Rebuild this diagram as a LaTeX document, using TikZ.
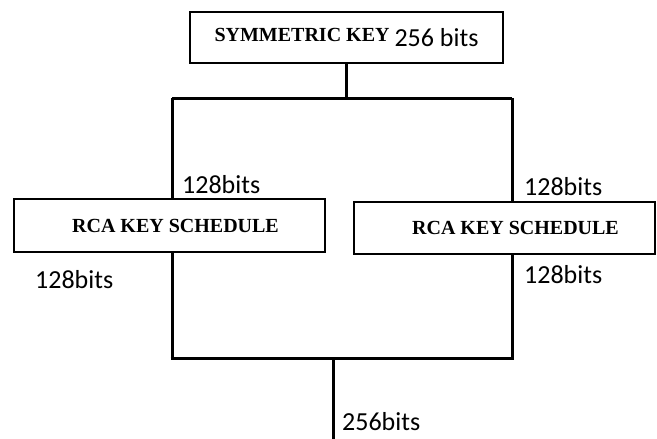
\documentclass[tikz,border=0pt]{standalone}
\usepackage{fontspec}
\setmainfont{Liberation Serif}
\newfontfamily\bitsfont{Carlito}
\usetikzlibrary{positioning}

\begin{document}
\begin{tikzpicture}[x=1pt,y=-1pt]
	\tikzset{keybox/.style={draw,line width=1.6pt,inner sep=0pt,font=\bfseries\fontsize{20}{22}\selectfont}}
	\tikzset{wire/.style={line width=3pt}}
	\tikzset{bits/.style={inner sep=0pt,font=\bitsfont\fontsize{26}{28}\selectfont}}

	\useasboundingbox (0,0) rectangle (657,439);

	    \node[keybox,minimum width=313pt,minimum height=51pt] (symkey) at (346.5,37.5)
	        {SYMMETRIC KEY \raisebox{-5pt}{\bitsfont\fontsize{26}{28}\selectfont\mdseries 256 bits}};
	    \node[keybox,minimum width=311pt,minimum height=53pt] (lsched) at (169.5,225.5) {\hspace*{12pt}RCA KEY SCHEDULE};
	    \node[keybox,minimum width=301pt,minimum height=52pt] (rsched) at (504.5,228) {\hspace*{22pt}RCA KEY SCHEDULE};

	    \coordinate (splitL) at (172,98);
	    \coordinate (splitR) at (512,98);
	    \coordinate (joinL) at (172,358);
	    \coordinate (joinR) at (512,358);
	    \coordinate (out) at (333,439);

	    % split of the key
	    \draw[wire] (symkey.south) -- (symkey.south |- splitL);
	    \draw[wire] (splitL) -- (splitR);
	    \draw[wire] (splitL) -- (splitL |- lsched.north);
	    \draw[wire] (splitR) -- (splitR |- rsched.north);

	    % joining the halves
	    \draw[wire] (joinL |- lsched.south) -- (joinL);
	    \draw[wire] (joinR |- rsched.south) -- (joinR);
	    \draw[wire] ([xshift=-1.5pt]joinL) -- ([xshift=1.5pt]joinR);
	    \draw[wire] (out |- joinL) -- (out);

	    \node[bits,anchor=base west] (lin) at (182,193) {128bits};
	    \node[bits,anchor=base west] (lout) at (35,288) {128bits};
	    \node[bits,anchor=base west] (rin) at (524,195) {128bits};
	    \node[bits,anchor=base west] (rout) at (524,283) {128bits};
	    \node[bits,anchor=base west] (keyout) at (342,430) {256bits};

\end{tikzpicture}
\end{document}
